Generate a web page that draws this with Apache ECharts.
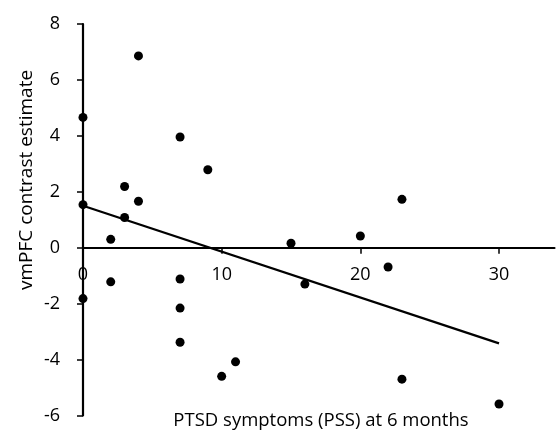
<!DOCTYPE html>
<html>
<head>
<meta charset="utf-8">
<script src="https://cdn.jsdelivr.net/npm/echarts@6/dist/echarts.min.js"></script>
<style>
html,body{margin:0;padding:0;background:#fff;}
#chart{width:557px;height:430px;}
</style>
</head>
<body>
<div id="chart"></div>
<script>
var pssX = [0, 4, 7, 9, 3, 4, 0, 3, 2, 2, 0, 7, 7, 7, 10, 11, 15, 20, 23, 22, 16, 23, 30];
var vmpfcY = [4.66, 6.86, 3.96, 2.79, 2.19, 1.66, 1.54, 1.08, 0.30, -1.22, -1.82, -1.12, -2.16, -3.38, -4.60, -4.08, 0.16, 0.42, 1.73, -0.69, -1.30, -4.70, -5.59];
var trendX = [0, 30];
var trendY = [1.50, -3.42];
var xTicks = [0, 10, 20, 30];
var yTicks = [-6, -4, -2, 0, 2, 4, 6, 8];
var xTitle = 'PTSD symptoms (PSS) at 6 months';
var yTitle = 'vmPFC contrast estimate';

var font = '"Open Sans", "Noto Sans", sans-serif';
var points = pssX.map(function (x, i) { return [x, vmpfcY[i]]; });
var trend = trendX.map(function (x, i) { return [x, trendY[i]]; });

var gridTop = 24, gridBottom = 14.5, H = 430;
var yMin = -6, yMax = 8;
var plotH = H - gridTop - gridBottom;
var zeroOffset = -plotH * (0 - yMin) / (yMax - yMin);

var chart = echarts.init(document.getElementById('chart'), null, {renderer: 'canvas'});
chart.setOption({
  animation: false,
  backgroundColor: '#ffffff',
  grid: {left: 83, right: 2.5, top: gridTop, bottom: gridBottom, containLabel: false},
  xAxis: {
    type: 'value', min: 0, max: 34,
    offset: zeroOffset,
    splitLine: {show: false},
    axisLine: {onZero: false, lineStyle: {color: '#000', width: 2.2}},
    axisTick: {show: true, inside: false, length: 6, lineStyle: {color: '#000', width: 1.5}, customValues: xTicks},
    axisLabel: {customValues: xTicks, color: '#000', fontSize: 18, fontFamily: font, margin: 18}
  },
  yAxis: {
    type: 'value', min: yMin, max: yMax, interval: 2,
    splitLine: {show: false},
    axisLine: {onZero: false, lineStyle: {color: '#000', width: 2.2}},
    axisTick: {show: true, length: 6, lineStyle: {color: '#000', width: 1.5}, customValues: yTicks},
    axisLabel: {customValues: yTicks, color: '#000', fontSize: 18, fontFamily: font, margin: 23}
  },
  graphic: [
    {type: 'text', x: 321, y: 421, style: {text: xTitle, fill: '#000', font: '18.5px ' + font, textAlign: 'center', textVerticalAlign: 'middle'}},
    {type: 'text', x: 27, y: 180, rotation: Math.PI / 2, style: {text: yTitle, fill: '#000', font: '19px ' + font, textAlign: 'center', textVerticalAlign: 'middle'}}
  ],
  series: [
    {type: 'scatter', data: points, symbol: 'circle', symbolSize: 9, itemStyle: {color: '#000', opacity: 1}, z: 3},
    {type: 'line', data: trend, showSymbol: false, symbol: 'none', lineStyle: {color: '#000', width: 2.3}, z: 2}
  ]
});
</script>
</body>
</html>
